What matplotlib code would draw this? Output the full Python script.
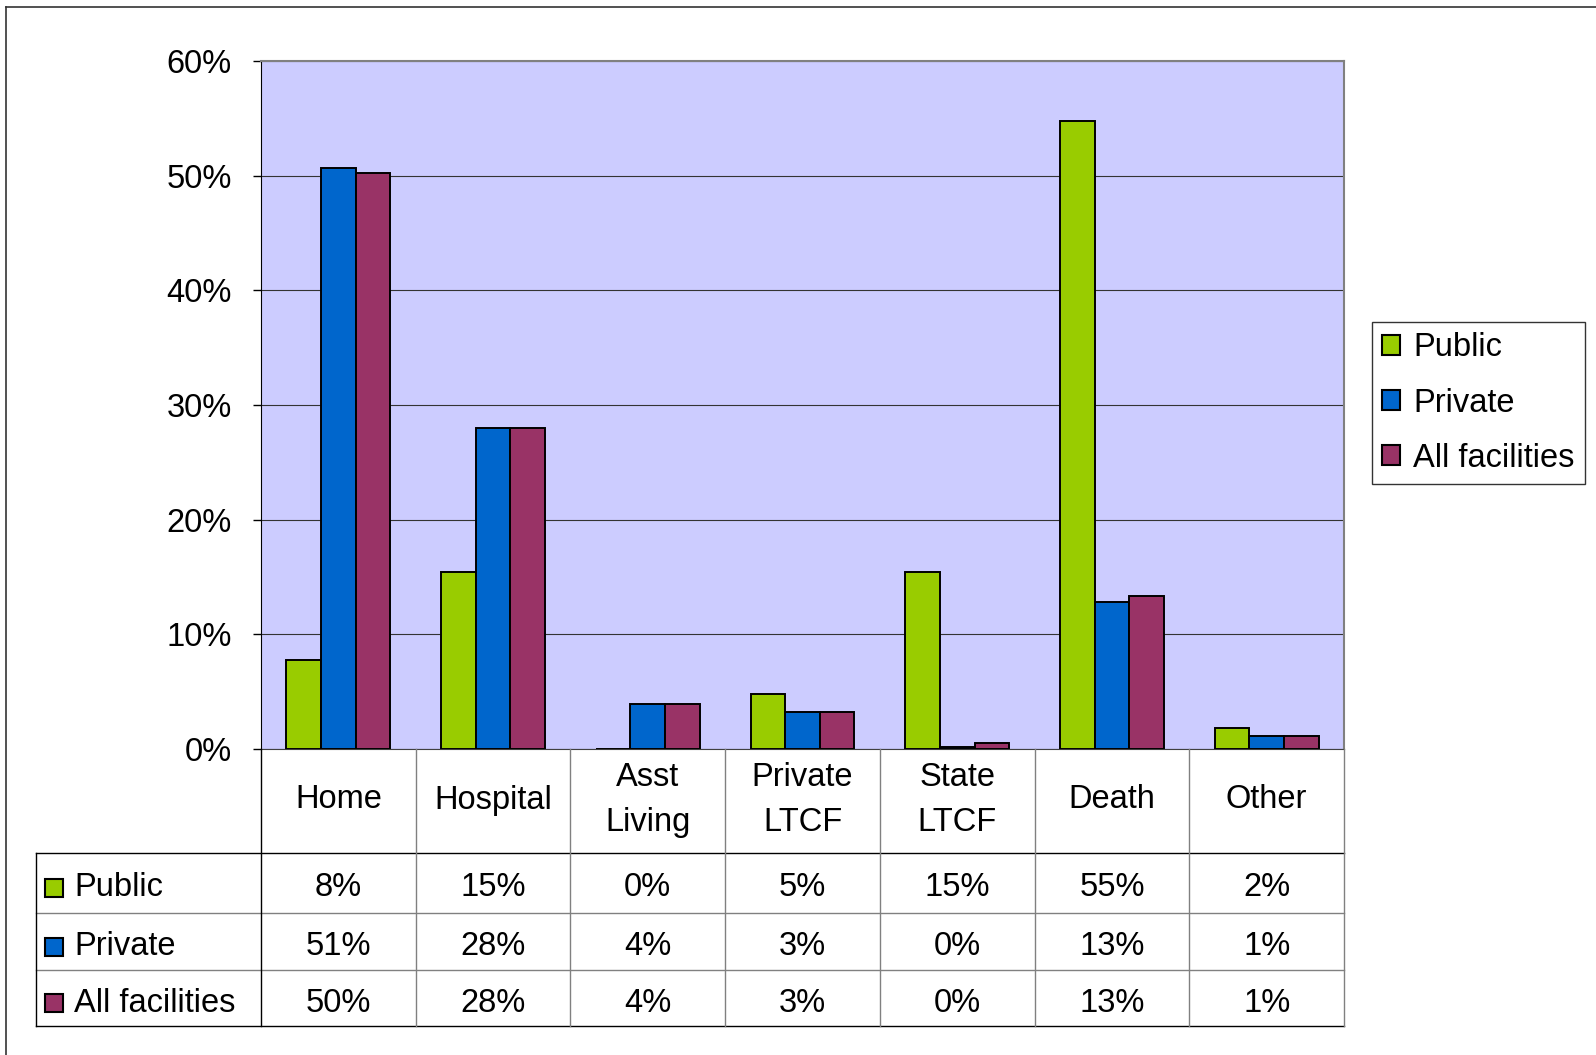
import matplotlib.pyplot as plt
from matplotlib.patches import Patch
from matplotlib.lines import Line2D
from matplotlib.ticker import PercentFormatter

plt.rcParams['font.family'] = ['Liberation Sans', 'DejaVu Sans']

categories = ["Home", "Hospital", "Asst\nLiving", "Private\nLTCF", "State\nLTCF", "Death", "Other"]
series = ["Public", "Private", "All facilities"]
public = [7.8, 15.4, 0.0, 4.8, 15.4, 54.8, 1.8]
private = [50.7, 28.0, 3.9, 3.2, 0.2, 12.8, 1.1]
all_fac = [50.2, 28.0, 3.9, 3.2, 0.5, 13.3, 1.1]
table_public = ["8%", "15%", "0%", "5%", "15%", "55%", "2%"]
table_private = ["51%", "28%", "4%", "3%", "0%", "13%", "1%"]
table_all = ["50%", "28%", "4%", "3%", "0%", "13%", "1%"]
colors = ["#99CC00", "#0066CC", "#993366"]

W, H = 1596, 1055
fs = 23.5
fig = plt.figure(figsize=(W / 100, H / 100), dpi=100)

# main plot area (pixel box: 261..1344 x 61..749)
ax = fig.add_axes([261 / W, 1 - 749 / H, 1083 / W, 688 / H])
ax.set_facecolor("#CCCCFF")
n = len(categories)
bw = 0.224
for k, vals in enumerate([public, private, all_fac]):
    ax.bar([i + (k - 1) * bw for i in range(n)], [v / 100 for v in vals], width=bw,
           color=colors[k], edgecolor="black", linewidth=1.4, zorder=3)
ax.set_xlim(-0.5, n - 0.5)
ax.set_ylim(0, 0.6)
ax.set_yticks([0, 0.1, 0.2, 0.3, 0.4, 0.5, 0.6])
ax.yaxis.set_major_formatter(PercentFormatter(1.0, decimals=0))
ax.tick_params(axis="y", direction="out", length=6, width=1, pad=15, labelsize=fs)
ax.set_xticks([])
ax.yaxis.grid(True, color="#333333", linewidth=0.8, zorder=0)
ax.set_axisbelow(True)
ax.spines["left"].set_color("black")
ax.spines["bottom"].set_color("#404040")
for s in ["top", "right"]:
    ax.spines[s].set_color("#808080")
    ax.spines[s].set_linewidth(1.5)

# data table below the plot (pixel box: 36..1344 x 749..1026)
cw = 1083 / n
left_ext = (261 - 36) / cw
tab = fig.add_axes([36 / W, 1 - 1026 / H, 1308 / W, 277 / H])
tab.set_xlim(-0.5 - left_ext, n - 0.5)
tab.set_ylim(1026, 749)
tab.axis("off")
x0 = -0.5 - left_ext
row_lines = [853, 913, 970, 1026]
for y in row_lines:
    tab.plot([x0, n - 0.5], [y, y], color="black" if y in (853, 1026) else "#808080",
             lw=1, clip_on=False)
tab.plot([x0, x0], [853, 1026], color="black", lw=1, clip_on=False)
for i in range(n + 1):
    tab.plot([i - 0.5, i - 0.5], [749, 1026], color="black" if i == 0 else "#808080",
             lw=1, clip_on=False)
for i, c in enumerate(categories):
    tab.text(i, 800, c, ha="center", va="center", fontsize=fs, linespacing=1.55)
rows = [table_public, table_private, table_all]
for r, (lab, vals) in enumerate(zip(series, rows)):
    yc = (row_lines[r] + row_lines[r + 1]) / 2 + 5
    tab.plot([x0 + (54 - 36) / cw], [yc], marker="s", markersize=13,
             markerfacecolor=colors[r], markeredgecolor="black", markeredgewidth=1.5,
             clip_on=False)
    tab.text(x0 + (74 - 36) / cw, yc, lab, ha="left", va="center", fontsize=fs)
    for i, v in enumerate(vals):
        tab.text(i, yc, v, ha="center", va="center", fontsize=fs)

handles = [Patch(facecolor=c, edgecolor="black", linewidth=1.5) for c in colors]
leg = fig.legend(handles, series, loc="upper left", bbox_to_anchor=(1372 / W, 1 - 322 / H),
                 fontsize=fs, frameon=True, fancybox=False, edgecolor="black",
                 handlelength=0.55, handleheight=0.55, handletextpad=0.4,
                 labelspacing=0.74, borderpad=0.32, borderaxespad=0)
leg.get_frame().set_linewidth(1)

# outer chart frame
fig.add_artist(Line2D([6 / W, 6 / W], [0, 1 - 7 / H], color="#333333", lw=1.2,
                      transform=fig.transFigure))
fig.add_artist(Line2D([6 / W, 1], [1 - 7 / H, 1 - 7 / H], color="#333333", lw=1.2,
                      transform=fig.transFigure))

fig.savefig("out.png", dpi=100)
